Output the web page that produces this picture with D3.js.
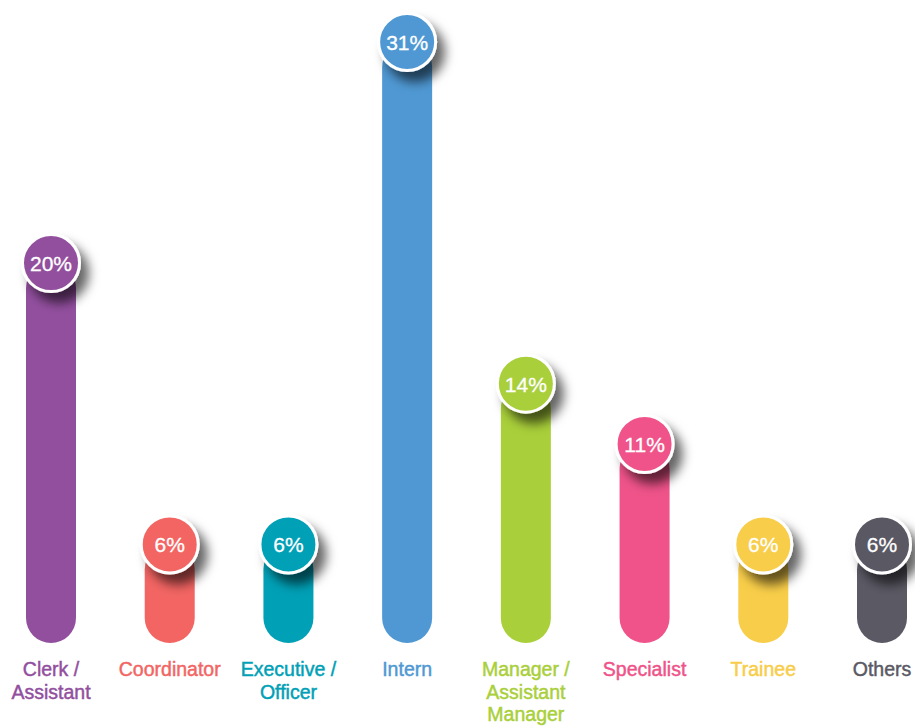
<!DOCTYPE html>
<html>
<head>
<meta charset="utf-8">
<script src="https://cdn.jsdelivr.net/npm/d3@7"></script>
<style>
  html, body { margin: 0; padding: 0; background: #fff; }
  svg { display: block; }
</style>
</head>
<body>
<div id="chart"></div>
<script>
// chart data
let categories = ["Clerk / Assistant", "Coordinator", "Executive / Officer", "Intern",
  "Manager / Assistant Manager", "Specialist", "Trainee", "Others"];
let labelLines = [["Clerk /", "Assistant"], ["Coordinator"], ["Executive /", "Officer"], ["Intern"],
  ["Manager /", "Assistant", "Manager"], ["Specialist"], ["Trainee"], ["Others"]];
let values = [20, 6, 6, 31, 14, 11, 6, 6];
let colors = ["#924f9e", "#f26563", "#00a0b6", "#4f98d3", "#a9cf3a", "#ef5389", "#f8cd49", "#5a5964"];

let width = 915;
let height = 726;
let barWidth = 50;
let baseY = 643;   // bottom of the pills
let radius = 28.5;
let font = "'Liberation Sans', Arial, Helvetica, sans-serif";

let svg = d3.select("#chart")
  .append("svg")
  .attr("width", width)
  .attr("height", height);

// soft shadow under the value bubbles
let filter = svg.append("defs").append("filter")
  .attr("id", "shadow")
  .attr("x", "-60%").attr("y", "-60%")
  .attr("width", "220%").attr("height", "220%");
filter.append("feDropShadow")
  .attr("dx", 8)
  .attr("dy", 10)
  .attr("stdDeviation", 5.5)
  .attr("flood-color", "#000")
  .attr("flood-opacity", 0.6);

let x = d3.scalePoint()
  .domain(categories)
  .range([51, 882]);

let y = d3.scaleLinear()
  .domain([0, 31])
  .range([665, 42]);

let data = categories.map((c, i) => ({ cat: c, value: values[i], color: colors[i], lines: labelLines[i] }));

let g = svg.selectAll("g.bar")
  .data(data)
  .enter()
  .append("g")
  .attr("class", "bar")
  .attr("transform", d => "translate(" + x(d.cat) + ",0)");

// pill bar
g.append("rect")
  .attr("x", -barWidth / 2)
  .attr("y", d => y(d.value))
  .attr("width", barWidth)
  .attr("height", d => baseY - y(d.value))
  .attr("rx", barWidth / 2)
  .attr("fill", d => d.color);

// bubble on top
g.append("circle")
  .attr("cx", 0)
  .attr("cy", d => y(d.value))
  .attr("r", radius)
  .attr("fill", d => d.color)
  .attr("stroke", "#fff")
  .attr("stroke-width", 3)
  .attr("filter", "url(#shadow)");

g.append("text")
  .attr("x", 0)
  .attr("y", d => y(d.value) + 8)
  .attr("text-anchor", "middle")
  .attr("fill", "#fff")
  .attr("stroke", "#fff")
  .attr("stroke-width", 0.3)
  .style("font-family", font)
  .style("font-size", "21px")
  .text(d => d.value + "%");

// category labels
let labels = g.append("text")
  .attr("text-anchor", "middle")
  .attr("fill", d => d.color)
  .attr("stroke", d => d.color)
  .attr("stroke-width", 0.45)
  .style("font-family", font)
  .style("font-size", "19.5px");

labels.selectAll("tspan")
  .data(d => d.lines)
  .enter()
  .append("tspan")
  .attr("x", 0)
  .attr("y", (d, i) => 676 + i * 22.5)
  .text(d => d);
</script>
</body>
</html>
